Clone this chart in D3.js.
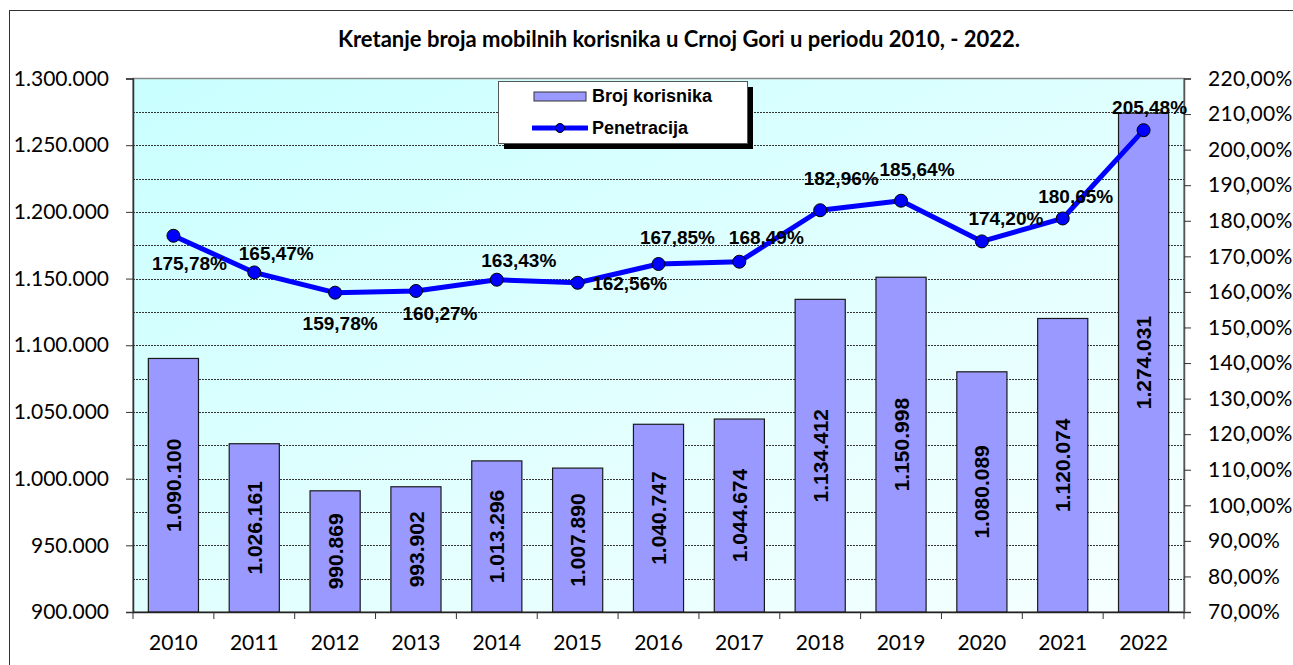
<!DOCTYPE html>
<html>
<head>
<meta charset="utf-8">
<script src="https://cdn.jsdelivr.net/npm/d3@7"></script>
<style>
  body { margin: 0; background: #fff; }
  svg { display: block; }
</style>
</head>
<body>
<svg id="chart" width="1293" height="665"></svg>
<script>
// data
const years = ["2010", "2011", "2012", "2013", "2014", "2015", "2016", "2017", "2018", "2019", "2020", "2021", "2022"];
const users = [1090100, 1026161, 990869, 993902, 1013296, 1007890, 1040747, 1044674, 1134412, 1150998, 1080089, 1120074, 1274031];
const penetration = [175.78, 165.47, 159.78, 160.27, 163.43, 162.56, 167.85, 168.49, 182.96, 185.64, 174.20, 180.65, 205.48];
const leftTicks = [900000, 950000, 1000000, 1050000, 1100000, 1150000, 1200000, 1250000, 1300000];
const rightTicks = [70, 80, 90, 100, 110, 120, 130, 140, 150, 160, 170, 180, 190, 200, 210, 220];

// where each percentage label sits relative to its point (layout, not data)
const labelShift = [[16, 27], [22, -19], [5, 30], [24, 22], [22, -20], [52, 0], [19, -27],
                    [27, -25], [21, -32], [16, -32], [24, -23], [13, -22], [6, -23]];

const svg = d3.select("#chart");
const plot = { left: 133, right: 1184, top: 78.5, bottom: 612 };

const numFmt = v => d3.format(",")(v).replace(/,/g, ".");
const pctFmt = v => d3.format(".2f")(v).replace(".", ",") + "%";

const x = d3.scaleBand()
    .domain(years)
    .range([plot.left, plot.right])
    .paddingInner(0.38)
    .paddingOuter(0.19);

const y = d3.scaleLinear()
    .domain([900000, 1300000])
    .range([plot.bottom, plot.top]);

const y2 = d3.scaleLinear()
    .domain([70, 220])
    .range([plot.bottom, plot.top]);

// outer frame (runs off the right/bottom edge like the original)
svg.append("rect")
    .attr("x", 9.5).attr("y", 10.5)
    .attr("width", 1320).attr("height", 700)
    .attr("fill", "#fff")
    .attr("stroke", "#333").attr("stroke-width", 1);

const defs = svg.append("defs");
const grad = defs.append("linearGradient")
    .attr("id", "bg")
    .attr("x1", 0).attr("y1", 0).attr("x2", 1).attr("y2", 1);
grad.append("stop").attr("offset", "0%").attr("stop-color", "#c9ffff");
grad.append("stop").attr("offset", "100%").attr("stop-color", "#f7ffff");

svg.append("rect")
    .attr("x", plot.left).attr("y", plot.top)
    .attr("width", plot.right - plot.left).attr("height", plot.bottom - plot.top)
    .attr("fill", "url(#bg)")
    .attr("stroke", "#888").attr("stroke-width", 1.5);

// dotted grid every 25.000
svg.append("g")
  .selectAll("line")
  .data(d3.range(925000, 1300000, 25000))
  .join("line")
    .attr("x1", plot.left).attr("x2", plot.right)
    .attr("y1", d => Math.round(y(d)) + 0.5).attr("y2", d => Math.round(y(d)) + 0.5)
    .attr("stroke", "#333")
    .attr("stroke-width", 1)
    .attr("stroke-dasharray", "2,1");

// title
svg.append("text")
    .attr("x", 679).attr("y", 47)
    .attr("text-anchor", "middle")
    .style("font", "bold 22px Lato, 'Open Sans', sans-serif")
    .text("Kretanje broja mobilnih korisnika u Crnoj Gori u periodu 2010, - 2022.");

// bars
svg.append("g")
  .selectAll("rect")
  .data(users)
  .join("rect")
    .attr("x", (d, i) => x(years[i]))
    .attr("y", d => y(d))
    .attr("width", x.bandwidth())
    .attr("height", d => plot.bottom - y(d))
    .attr("fill", "#9999ff")
    .attr("stroke", "#1a1a1a")
    .attr("stroke-width", 1.2);

// bar values, vertical
svg.append("g")
  .selectAll("text")
  .data(users)
  .join("text")
    .attr("transform", (d, i) => {
      const cx = x(years[i]) + x.bandwidth() / 2;
      const cy = (y(d) + plot.bottom) / 2;
      return `translate(${cx},${cy}) rotate(-90)`;
    })
    .attr("text-anchor", "middle")
    .attr("dy", "0.36em")
    .style("font", "bold 21px 'Liberation Sans', Arial, sans-serif")
    .text(numFmt);

// left axis
const gL = svg.append("g")
    .attr("transform", `translate(${plot.left},0)`)
    .call(d3.axisLeft(y).tickValues(leftTicks).tickFormat(numFmt).tickSize(7).tickPadding(17));
gL.select(".domain").attr("stroke", "#333").attr("stroke-width", 1.5);
gL.selectAll(".tick line").attr("stroke", "#333");
gL.selectAll("text")
    .style("font", "21px Lato, sans-serif")
    .attr("fill", "#000");

// right axis
const gR = svg.append("g")
    .attr("transform", `translate(${plot.right},0)`)
    .call(d3.axisRight(y2).tickValues(rightTicks).tickFormat(pctFmt).tickSize(7).tickPadding(17));
gR.select(".domain").attr("stroke", "#555").attr("stroke-width", 1.5);
gR.selectAll(".tick line").attr("stroke", "#333");
gR.selectAll("text")
    .style("font", "21px Lato, sans-serif")
    .style("letter-spacing", "0.3px")
    .attr("fill", "#000");

// bottom axis: labels centred on bands, ticks on band edges
const gB = svg.append("g")
    .attr("transform", `translate(0,${plot.bottom})`)
    .call(d3.axisBottom(x).tickSize(0).tickPadding(23));
gB.select(".domain").attr("stroke", "#222").attr("stroke-width", 1.5);
gB.selectAll("text")
    .style("font", "21px Lato, sans-serif")
    .attr("fill", "#000");
svg.append("g")
  .selectAll("line")
  .data(d3.range(years.length + 1))
  .join("line")
    .attr("x1", i => plot.left + i * x.step())
    .attr("x2", i => plot.left + i * x.step())
    .attr("y1", plot.bottom).attr("y2", plot.bottom + 7)
    .attr("stroke", "#333");

// penetration line
const line = d3.line()
    .x((d, i) => x(years[i]) + x.bandwidth() / 2)
    .y(d => y2(d));

svg.append("path")
    .datum(penetration)
    .attr("d", line)
    .attr("fill", "none")
    .attr("stroke", "#0000ff")
    .attr("stroke-width", 5)
    .attr("stroke-linejoin", "round");

svg.append("g")
  .selectAll("circle")
  .data(penetration)
  .join("circle")
    .attr("cx", (d, i) => x(years[i]) + x.bandwidth() / 2)
    .attr("cy", d => y2(d))
    .attr("r", 6.5)
    .attr("fill", "#0000ff")
    .attr("stroke", "#000")
    .attr("stroke-width", 1);

svg.append("g")
  .selectAll("text")
  .data(penetration)
  .join("text")
    .attr("x", (d, i) => x(years[i]) + x.bandwidth() / 2 + labelShift[i][0])
    .attr("y", (d, i) => y2(d) + labelShift[i][1])
    .attr("dy", "0.36em")
    .attr("text-anchor", "middle")
    .style("font", "bold 19px 'Liberation Sans', Arial, sans-serif")
    .text(pctFmt);

// legend
const lg = svg.append("g").attr("transform", "translate(498,81)");
lg.append("rect")
    .attr("x", 6).attr("y", 6).attr("width", 249).attr("height", 62)
    .attr("fill", "#000");
lg.append("rect")
    .attr("x", 0.5).attr("y", 0.5).attr("width", 249).attr("height", 62)
    .attr("fill", "#fff").attr("stroke", "#555");
lg.append("rect")
    .attr("x", 36).attr("y", 11).attr("width", 52).attr("height", 9)
    .attr("fill", "#9999ff").attr("stroke", "#333");
lg.append("line")
    .attr("x1", 34).attr("x2", 90).attr("y1", 47).attr("y2", 47)
    .attr("stroke", "#0000ff").attr("stroke-width", 5);
lg.append("circle")
    .attr("cx", 62).attr("cy", 47).attr("r", 4.5)
    .attr("fill", "#0000ff").attr("stroke", "#000");
lg.selectAll("text.item")
  .data(["Broj korisnika", "Penetracija"])
  .join("text")
    .attr("class", "item")
    .attr("x", 94)
    .attr("y", (d, i) => i ? 47 : 15)
    .attr("dy", "0.36em")
    .style("font", "bold 18px 'Liberation Sans', Arial, sans-serif")
    .text(d => d);
</script>
</body>
</html>
